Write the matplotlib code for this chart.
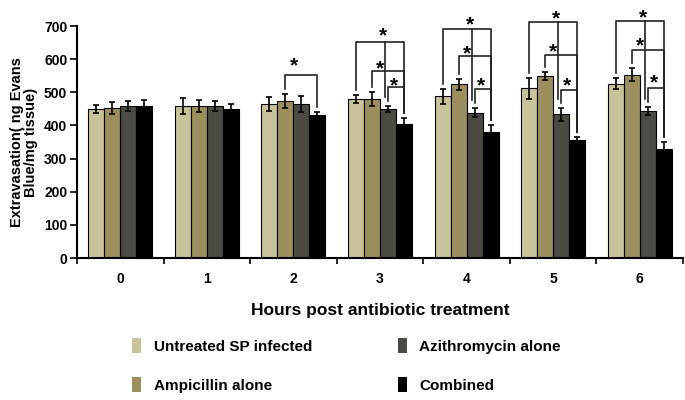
import numpy as np
import matplotlib.pyplot as plt
from matplotlib.patches import Patch

plt.rcParams['font.family'] = ['Liberation Sans', 'DejaVu Sans']
plt.rcParams['font.weight'] = 'bold'

# Data
hours = ['0', '1', '2', '3', '4', '5', '6']
groups = ['Untreated SP infected', 'Ampicillin alone', 'Azithromycin alone', 'Combined']
colors = ['#c9c39b', '#9c8f5d', '#4b4b44', '#000000']

untreated = [450, 458, 464, 480, 488, 512, 526]
ampicillin = [452, 460, 474, 480, 524, 548, 553]
azithro = [460, 460, 466, 450, 439, 433, 444]
combined = [458, 450, 430, 405, 380, 355, 328]

untreated_err = [12, 25, 21, 12, 23, 32, 17]
ampicillin_err = [18, 18, 20, 20, 17, 12, 20]
azithro_err = [15, 15, 24, 10, 14, 21, 12]
combined_err = [20, 15, 12, 18, 20, 10, 21]

# significance brackets: (hour index, bar a, bar b, bracket height, star height)
brackets = [
    (2, 1, 3, 552, 591),
    (3, 0, 3, 653, 681), (3, 1, 3, 564, 582), (3, 2, 3, 515, 532),
    (4, 0, 3, 690, 716), (4, 1, 3, 608, 628), (4, 2, 3, 509, 532),
    (5, 0, 3, 711, 733), (5, 1, 3, 612, 635), (5, 2, 3, 507, 532),
    (6, 0, 3, 715, 736), (6, 1, 3, 628, 651), (6, 2, 3, 514, 539),
]
# hours with a vertical stem under the top star
stems = [3, 4, 5, 6]

values = [untreated, ampicillin, azithro, combined]
errors = [untreated_err, ampicillin_err, azithro_err, combined_err]

fig = plt.figure(figsize=(6.85, 4.0), dpi=100)
ax = fig.add_axes([77 / 685, 1 - 258 / 400, 606 / 685, 232 / 400])

x = np.arange(len(hours))
w = 0.185
for k in range(4):
    ax.bar(x + (k - 1.5) * w, values[k], w, color=colors[k], edgecolor='black',
           linewidth=0.8, yerr=errors[k], error_kw=dict(ecolor='black', elinewidth=1.2,
                                                      capsize=2.5, capthick=1.2))

def bar_x(h, k):
    return h + (k - 1.5) * w

def bar_top(h, k):
    return values[k][h] + errors[k][h]

gap = 15
line_kw = dict(color='#222222', lw=1.2, clip_on=False)
for h, a, b, y, ys in brackets:
    xa, xb = bar_x(h, a), bar_x(h, b)
    ax.plot([xa, xa, xb, xb], [bar_top(h, a) + gap, y, y, bar_top(h, b) + gap], **line_kw)
    if a == 0:
        sx = (xa + xb) / 2 + 0.035
    elif a == 1:
        sx = (xa + xb) / 2 - 0.09
    else:
        sx = (xa + xb) / 2 - 0.02
    ax.text(sx, ys - 12, '*', ha='center', va='center', fontsize=15, fontweight='bold',
            clip_on=False)

for h in stems:
    top = [b[3] for b in brackets if b[0] == h and b[1] == 0][0]
    xs = h + 0.06
    ax.plot([xs, xs], [top, bar_top(h, 2) + 25], **line_kw)

ax.set_xlim(-0.5, 6.5)
ax.set_ylim(0, 700)
ax.set_yticks(range(0, 701, 100))
ax.set_xticks(x)
ax.set_xticklabels(hours)
ax.set_xticks(np.arange(-0.5, 7, 1), minor=True)
ax.tick_params(axis='x', which='major', length=0, pad=10, labelsize=10)
ax.tick_params(axis='x', which='minor', length=4, width=1.2, direction='out')
ax.tick_params(axis='y', length=5, width=1.2, labelsize=10, pad=2)
for lab in ax.get_xticklabels() + ax.get_yticklabels():
    lab.set_fontweight('bold')
for s in ['top', 'right']:
    ax.spines[s].set_visible(False)
for s in ['left', 'bottom']:
    ax.spines[s].set_linewidth(1.5)

ax.set_ylabel('Extravasation( ng Evans\nBlue/mg tissue)', fontsize=10.5, fontweight='bold',
              labelpad=4, linespacing=1.0)
ax.set_xlabel('Hours post antibiotic treatment', fontsize=12.5, fontweight='bold', labelpad=12)

handles = [Patch(facecolor=c, edgecolor='none') for c in colors]
leg_kw = dict(loc='upper left', frameon=False, handlelength=0.6, handleheight=1.1,
              handletextpad=0.8, labelspacing=1.55, borderpad=0, borderaxespad=0,
              prop=dict(size=11, weight='bold'))
fig.legend(handles[:2], groups[:2], bbox_to_anchor=(0.193, 0.155), **leg_kw)
fig.legend(handles[2:], groups[2:], bbox_to_anchor=(0.581, 0.155), **leg_kw)

fig.savefig('out.png', dpi=100)
